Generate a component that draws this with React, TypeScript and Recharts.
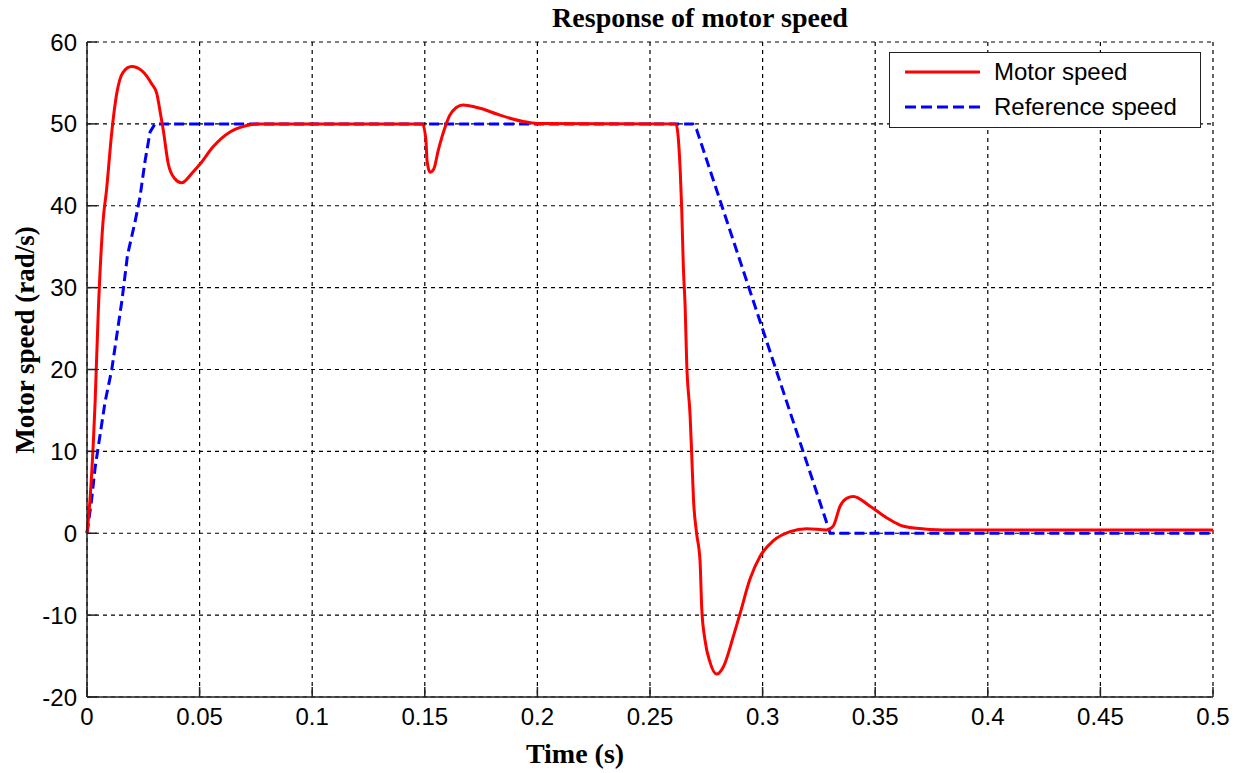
import { LineChart, Line, XAxis, YAxis, CartesianGrid } from 'recharts'

// Motor speed (red)
const motorTime = [
  0, 0.0013, 0.0028, 0.0036, 0.005, 0.0071, 0.0087, 0.011, 0.0132, 0.016, 0.0198, 0.0243,
  0.0287, 0.031, 0.0324, 0.0339, 0.0361, 0.039, 0.042, 0.047, 0.0502, 0.056, 0.0635, 0.071,
  0.076, 0.149, 0.1505, 0.151, 0.1523, 0.154, 0.156, 0.159, 0.161, 0.164, 0.167, 0.1745,
  0.182, 0.189, 0.1937, 0.2, 0.2615, 0.2634, 0.2641, 0.2648, 0.2656, 0.2663, 0.2678, 0.2685,
  0.2693, 0.2707, 0.2722, 0.273, 0.2744, 0.2767, 0.2796, 0.2826, 0.287, 0.29, 0.2944, 0.2989,
  0.3048, 0.3122, 0.3196, 0.3285, 0.3314, 0.3344, 0.3375, 0.3403, 0.3477, 0.355, 0.361,
  0.3685, 0.38, 0.5,
]
const motorSpeed = [
  0, 4, 11, 16, 27, 38, 42, 49, 53.7, 56.3, 57, 56.5,
  54.9, 53.7, 51.6, 49.2, 45.1, 43.3, 42.8, 44.1, 45.1, 47.2, 49, 49.8,
  50, 50, 48, 45.5, 44.1, 44.5, 46.8, 49.6, 51, 52, 52.3, 51.9,
  51.2, 50.6, 50.3, 50.05, 50, 44.4, 39.5, 32.6, 27.7, 20.8, 14.4, 9.8,
  4.2, 0, -3.3, -9.3, -13, -15.8, -17.2, -16.3, -12.6, -9.8, -5.6, -2.8,
  -0.9, 0.2, 0.55, 0.4, 0.9, 3.3, 4.3, 4.5, 3.3, 1.9, 1.0,
  0.6, 0.4, 0.4,
]

// Reference speed (blue dashed)
const refTime = [0, 0.002, 0.0036, 0.0058, 0.008, 0.011, 0.0155, 0.018, 0.0213, 0.0235, 0.0258, 0.028, 0.0302, 0.269, 0.2707, 0.33, 0.5]
const refSpeed = [0, 4, 8, 12, 16, 20, 28.4, 34, 38, 41, 45.5, 49, 50, 50, 49.3, 0, 0]

const xTicks = [0, 0.05, 0.1, 0.15, 0.2, 0.25, 0.3, 0.35, 0.4, 0.45, 0.5]
const yTicks = [-20, -10, 0, 10, 20, 30, 40, 50, 60]
const xTickLabels = ['0', '0.05', '0.1', '0.15', '0.2', '0.25', '0.3', '0.35', '0.4', '0.45', '0.5']

const motorData = motorTime.map((t, i) => ({ t, v: motorSpeed[i] }))
const refData = refTime.map((t, i) => ({ t, v: refSpeed[i] }))

const sans = '"Liberation Sans", Arial, sans-serif'
const serif = '"Liberation Serif", "Times New Roman", serif'
const tickStyle = { fontFamily: sans, fontSize: 24, fill: '#000' }
const axisStroke = { stroke: '#222', strokeWidth: 1.5 }

export default function App() {
  return (
    <div style={{ position: 'relative', width: 1243, height: 773, background: '#fff' }}>
      <style>{'body{margin:0}'}</style>
      <LineChart
        width={1243}
        height={773}
        margin={{ top: 42, right: 30, left: 0, bottom: 0 }}
      >
        <CartesianGrid stroke="#000" strokeDasharray="4 4" strokeWidth={1.2} />
        <XAxis
          dataKey="t"
          type="number"
          domain={[0, 0.5]}
          ticks={xTicks}
          tickFormatter={(v: number) => xTickLabels[xTicks.indexOf(v)] ?? String(v)}
          allowDuplicatedCategory={false}
          height={76}
          tick={tickStyle}
          tickSize={-10}
          tickMargin={21}
          axisLine={axisStroke}
          tickLine={axisStroke}
        />
        <XAxis
          xAxisId="top"
          orientation="top"
          type="number"
          domain={[0, 0.5]}
          ticks={xTicks}
          height={0}
          tick={false}
          tickSize={-10}
          axisLine={axisStroke}
          tickLine={axisStroke}
        />
        <YAxis
          type="number"
          domain={[-20, 60]}
          ticks={yTicks}
          width={87}
          tick={tickStyle}
          tickSize={-10}
          tickMargin={20}
          axisLine={axisStroke}
          tickLine={axisStroke}
        />
        <YAxis
          yAxisId="right"
          orientation="right"
          type="number"
          domain={[-20, 60]}
          ticks={yTicks}
          width={0}
          tick={false}
          tickSize={-10}
          axisLine={axisStroke}
          tickLine={axisStroke}
        />
        <Line
          data={refData}
          dataKey="v"
          type="linear"
          stroke="#0000ff"
          strokeWidth={3}
          strokeDasharray="10 5"
          dot={false}
          isAnimationActive={false}
        />
        <Line
          data={motorData}
          dataKey="v"
          type="monotone"
          stroke="#ff0000"
          strokeWidth={3}
          dot={false}
          isAnimationActive={false}
        />
      </LineChart>

      <div
        style={{
          position: 'absolute',
          left: 700,
          top: 28,
          transform: 'translate(-50%, -80%)',
          fontFamily: serif,
          fontWeight: 'bold',
          fontSize: 28,
          whiteSpace: 'nowrap',
        }}
      >
        Response of motor speed
      </div>
      <div
        style={{
          position: 'absolute',
          left: 575,
          top: 754,
          transform: 'translate(-50%, -50%)',
          fontFamily: serif,
          fontWeight: 'bold',
          fontSize: 28,
          whiteSpace: 'nowrap',
        }}
      >
        Time (s)
      </div>
      <div
        style={{
          position: 'absolute',
          left: 25,
          top: 340,
          transform: 'translate(-50%, -50%) rotate(-90deg)',
          fontFamily: serif,
          fontWeight: 'bold',
          fontSize: 27,
          whiteSpace: 'nowrap',
        }}
      >
        Motor speed (rad/s)
      </div>

      <div
        style={{
          position: 'absolute',
          left: 889,
          top: 52,
          width: 310,
          height: 74,
          border: '1.5px solid #222',
          background: '#fff',
          fontFamily: sans,
          fontSize: 24,
        }}
      >
        <svg width={90} height={74} style={{ position: 'absolute', left: 0, top: 0 }}>
          <line x1={15} x2={96} y1={19} y2={19} stroke="#ff0000" strokeWidth={3} />
          <line x1={15} x2={96} y1={54} y2={54} stroke="#0000ff" strokeWidth={3} strokeDasharray="11 5" />
        </svg>
        <div style={{ position: 'absolute', left: 104, top: 5, lineHeight: '28px' }}>Motor speed</div>
        <div style={{ position: 'absolute', left: 104, top: 40, lineHeight: '28px' }}>Reference speed</div>
      </div>
    </div>
  )
}
